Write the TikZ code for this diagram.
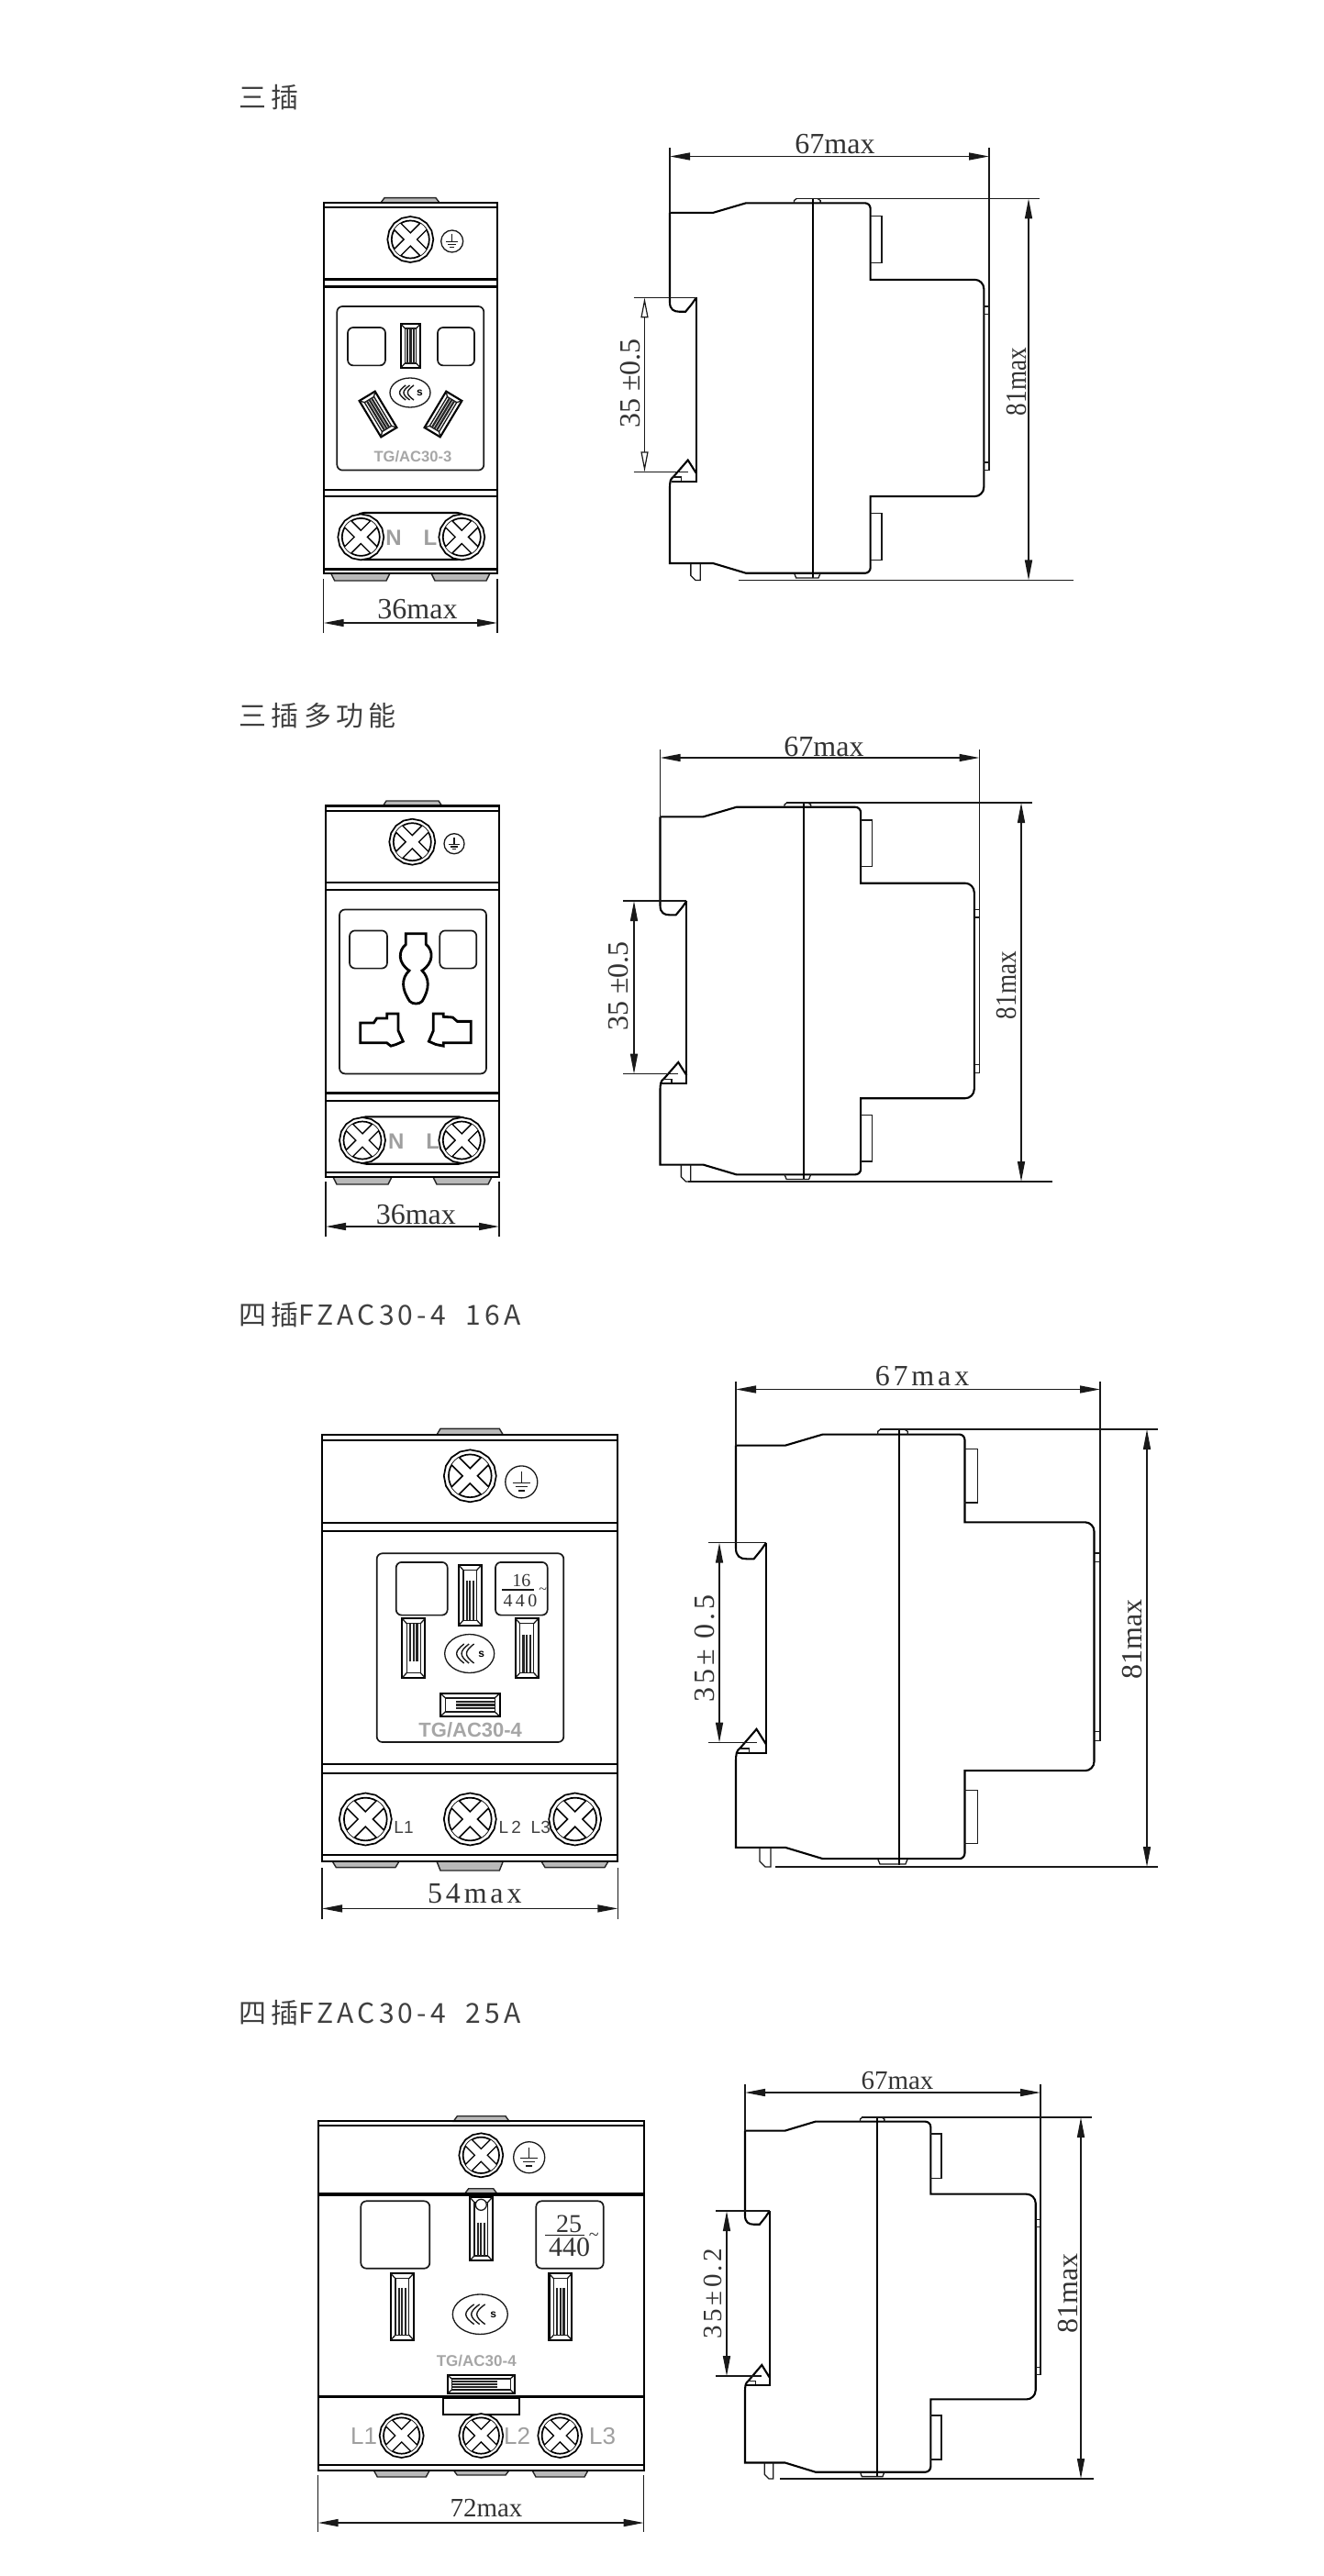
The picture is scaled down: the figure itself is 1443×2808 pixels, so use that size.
\documentclass[tikz,border=0pt]{standalone}
\usepackage{fontspec}
\usetikzlibrary{arrows.meta}
\newfontfamily\headfont[LetterSpace=18]{Noto Sans CJK SC}
\newfontfamily\headlatin[LetterSpace=14]{Noto Sans CJK SC}
\newfontfamily\dimfont{Liberation Serif}
\newfontfamily\dimwide[LetterSpace=12]{Liberation Serif}
\newfontfamily\marksans{Liberation Sans}
\tikzset{
    bodyline/.style = {draw=black, line width=1.05pt},
    thinline/.style = {draw=black!90, line width=0.65pt},
    heavyline/.style = {draw=black, line width=1.4pt},
    tabfill/.style = {draw=black!85, fill=gray!55, line width=0.7pt},
    windownode/.style = {draw=black!90, line width=0.85pt, rounded corners=3pt},
    extline/.style = {draw=black!90, line width=0.75pt},
    dimline/.style = {draw=black!90, line width=0.75pt, <->, >={Triangle[length=11pt,width=4pt]}},
    dimopen/.style = {draw=black!90, line width=0.6pt, <->, >={Triangle[open,length=11pt,width=4pt,fill=white]}},
    headnode/.style = {anchor=west, inner sep=0pt, text=black!75, font=\headfont\fontsize{15}{15}\selectfont},
    dimnode/.style = {inner sep=0pt, text=black!80, font=\dimfont\fontsize{16}{16}\selectfont},
    dimsmall/.style = {inner sep=0pt, text=black!80, font=\dimfont\fontsize{14.5}{14.5}\selectfont},
    widenode/.style = {inner sep=0pt, text=black!80, font=\dimwide\fontsize{16}{16}\selectfont},
    graymark/.style = {inner sep=0pt, text=gray!75, font=\marksans\bfseries\fontsize{12}{12}\selectfont},
    typemark/.style = {inner sep=0pt, text=gray!70, font=\marksans\bfseries\fontsize{#1}{#1}\selectfont},
    ratenode/.style = {inner sep=0pt, text=black!80, font=\dimfont\fontsize{#1}{#1}\selectfont}
}
\newcommand{\screw}[3]{%
    \begin{scope}[shift={(#1,#2)}]
        \draw[bodyline, line width=0.85pt, fill=white] plot[samples=17, domain=0:360] ({#3*cos(\x)},{#3*sin(\x)}) -- cycle;
        \draw[bodyline, line width=0.85pt] (0,0) circle ({0.82*#3});
        \begin{scope}
            \clip (0,0) circle ({0.82*#3});
            \foreach \a in {45,135} \draw[black, line width=0.23*#3 pt] (\a:#3) -- (\a+180:#3);
            \foreach \a in {45,135} \draw[white, line width=0.17*#3 pt] (\a:#3) -- (\a+180:#3);
        \end{scope}
    \end{scope}
}
\newcommand{\earth}[3]{%
    \begin{scope}[shift={(#1,#2)}]
        \draw[thinline] (0,0) circle (#3);
        \draw[thinline] (0,{-0.65*#3}) -- (0,{0.05*#3});
        \draw[thinline] ({-0.55*#3},{0.05*#3}) -- ({0.55*#3},{0.05*#3});
        \draw[thinline] ({-0.38*#3},{0.3*#3}) -- ({0.38*#3},{0.3*#3});
        \draw[thinline] ({-0.2*#3},{0.55*#3}) -- ({0.2*#3},{0.55*#3});
    \end{scope}
}
\newcommand{\slotmark}[6]{%
    \begin{scope}[shift={(#1,#2)}, rotate=#5]
        \draw[bodyline, fill=white] ({-#3/2},{-#4/2}) rectangle ({#3/2},{#4/2});
        \draw[thinline] ({-0.3*#3},{-#4/2+0.22*#3}) rectangle ({0.3*#3},{#4/2-0.22*#3});
        \foreach \sx in {-1,1} \foreach \sy in {-1,1}
            \draw[thinline] ({\sx*#3/2},{\sy*#4/2}) -- ({\sx*0.3*#3},{\sy*(#4/2-0.22*#3)});
        \foreach \lx in {-0.15,0,0.15}
            \draw[black!85, line width=1.1pt] ({\lx*#3},{-#4/2+0.22*#3+#6}) -- ({\lx*#3},{#4/2-0.22*#3});
    \end{scope}
}
\newcommand{\logomark}[5]{%
    \draw[thinline] (#2,#3) ellipse (#4 and #5);
    \foreach \k in {0,1,2}
        \draw[thinline, line width=0.7pt] ({#2+(-0.22+0.2*\k)*#4},{#3-0.5*#5}) .. controls ({#2+(-0.62+0.2*\k)*#4},{#3-0.1*#5}) and ({#2+(-0.62+0.2*\k)*#4},{#3+0.1*#5}) .. ({#2+(-0.22+0.2*\k)*#4},{#3+0.5*#5});
    \node [inner sep=0pt, name=#1, font=\marksans\bfseries\fontsize{6}{6}\selectfont] at ({#2+0.48*#4},{#3+0.05*#5}) {s};
}
\newcommand{\tabmark}[4]{%
    \draw[tabfill] (#1,#4) -- ({#1+4},#3) -- ({#2-4},#3) -- (#2,#4) -- cycle;
}
% side view, drawn in millimetres: 67 wide and 81 high
\newcommand{\sideview}[4]{%
    \begin{scope}[shift={(#1,#2)}, xscale=#3/67, yscale=#4/81]
        \draw[bodyline] (0,3) -- (9.07,3) -- (16,0.94) [rounded corners=3pt] -- (42.1,0.94) -- (42.1,8) [sharp corners]
            -- (42.1,17.2) -- (60,17.2) [rounded corners=5pt] -- (65.9,17.2) -- (65.9,30) [sharp corners]
            -- (65.9,55) [rounded corners=5pt] -- (65.9,63.2) -- (60,63.2) [sharp corners]
            -- (42.1,63.2) -- (42.1,72) [rounded corners=3pt] -- (42.1,79.5) -- (30,79.5) [sharp corners]
            -- (16,79.5) -- (9.07,77.4) -- (0,77.4) -- (0,61.7)
            .. controls (0,60) and (0.1,59.5) .. (0.8,59) -- (3.8,55.5) -- (5.56,58.3);
        \draw[bodyline] (0,3) -- (0,22) .. controls (0,23.5) and (0.8,24) .. (2,24) -- (3.3,24) -- (4.6,22.4) -- (5.56,21);
        \draw[bodyline] (5.56,21) -- (5.56,60) -- (0.3,60);
        \draw[thinline] (0.5,59.1) -- (2.4,59.1) -- (2.4,59.9);
        \draw[bodyline] (30.05,0) -- (30.05,80.6);
        \draw[thinline] (26.1,0.94) -- (26.1,0.4) -- (26.6,0);
        \draw[thinline] (31.6,0.94) -- (31.6,0.4) -- (31,0);
        \draw[thinline] (26.1,79.5) -- (26.5,80.5) -- (31.2,80.5) -- (31.6,79.5);
        \draw[thinline] (42.1,3.7) -- (44.5,3.7) -- (44.5,13.6) -- (42.1,13.6);
        \draw[thinline] (42.1,66.8) -- (44.5,66.8) -- (44.5,76.7) -- (42.1,76.7);
        \draw[thinline] (65.9,22.9) -- (67,22.9) -- (67,57.7) -- (65.9,57.7);
        \draw[thinline] (65.9,24.5) -- (67,24.5);
        \draw[thinline] (65.9,56) -- (67,56);
        \draw[thinline] (4.4,77.4) -- (4.4,80) -- (5.4,81) -- (6.4,81) -- (6.4,77.4);
    \end{scope}
}
% dimension lines of a side view: x y w h, dim height, right dim x, left dim x, arrow style
\newcommand{\sidedims}[8]{%
    \pgfmathsetmacro{\xr}{#1+#3}
    \pgfmathsetmacro{\ya}{#2+21*(#4/81)}
    \pgfmathsetmacro{\yb}{#2+58*(#4/81)}
    \pgfmathsetmacro{\yd}{#2+#4}
    \pgfmathsetmacro{\xa}{#1+5.56*(#3/67)}
    \pgfmathsetmacro{\xb}{#1+3.8*(#3/67)}
    \pgfmathsetmacro{\ye}{#2+3*(#4/81)}
    \pgfmathsetmacro{\yf}{#2+22.9*(#4/81)}
    \pgfmathsetmacro{\xg}{#1+26.5*(#3/67)}
    \draw[dimline] (#1,#5) -- (\xr,#5);
    \draw[extline] (#1,{#5-9}) -- (#1,\ye);
    \draw[extline] (\xr,{#5-9}) -- (\xr,\yf);
    \draw[extline] (\xg,#2) -- ({#6+12},#2);
    \draw[dimline] (#6,#2) -- (#6,\yd);
    \draw[extline] ({#7-12},\ya) -- (\xa,\ya);
    \draw[extline] ({#7-12},\yb) -- (\xb,\yb);
    \draw[#8] (#7,\ya) -- (#7,\yb);
}
\begin{document}
\begin{tikzpicture}[x=0.5pt, y=-0.5pt]
    \useasboundingbox (0,0) rectangle (1443,2808);

    % three pin
    \node [headnode, name=headone] at (260,106) {三插};
    \tabmark{415}{479}{215.7}{221}
    \tabmark{360.7}{425}{633}{625}
    \tabmark{470}{534}{633}{625}
    \draw[bodyline] (352.7,220.7) rectangle (542,624.7);
    \foreach \ly in {225.8,304.5,312.5,533.8,541,620.5} \draw[bodyline] (352.7,\ly) -- (542,\ly);
    \screw{447.3}{261}{25}
    \earth{492.7}{263}{12}
    \draw[windownode] (367.3,334) rectangle (527.3,512.6);
    \draw[windownode] (379,357) rectangle (420,398.4);
    \draw[windownode] (477,357) rectangle (517,398.4);
    \slotmark{447.5}{377}{21}{47.5}{0}{0}
    \slotmark{412}{451.5}{20}{46}{31}{0}
    \slotmark{483}{451.5}{20}{46}{-31}{0}
    \logomark{logoone}{447}{428}{22}{16}
    \node [typemark=8.3, name=typeone] at (450,498) {TG/AC30-3};
    \draw[bodyline, rounded corners=6pt] (385,559) rectangle (510,610);
    \screw{393.3}{585.4}{25}
    \screw{503.3}{585.4}{25}
    \node [graymark, name=none, anchor=center] at (429,586.6) {N};
    \node [graymark, name=lone] at (469,586.6) {L};
    \draw[dimline] (352.7,679) -- (542,679);
    \draw[extline] (352.7,631) -- (352.7,690);
    \draw[extline] (542,631) -- (542,690);
    \node [dimnode, name=widthone] at (455,664) {36max};
    \sideview{730}{216.5}{348}{416}
    \sidedims{730}{216.5}{348}{416}{170.5}{1121}{702.5}{dimopen}
    \draw[extline] (805,632.5) -- (1170,632.5);
    \node [dimnode, name=depthone] at (910,157) {67max};
    \node [dimnode, name=heightone, rotate=90, xscale=0.85] at (1108,416) {81max};
    \node [dimnode, name=railone, rotate=90] at (687,418) {35 ±0.5};

    % three pin, multi function
    \node [headnode, name=headtwo] at (260,780) {三插多功能};
    \tabmark{417}{482}{873}{879}
    \tabmark{363}{427}{1291}{1283}
    \tabmark{472}{536}{1291}{1283}
    \draw[bodyline] (355,878.5) rectangle (544,1282.8);
    \foreach \ly in {884,961.7,969.7,1191.5,1199.6,1277.8} \draw[bodyline] (355,\ly) -- (544,\ly);
    \screw{449.3}{917.7}{25}
    \earth{495}{919.7}{11}
    \draw[windownode] (370,991.5) rectangle (530,1170.4);
    \draw[windownode] (381,1014.4) rectangle (422,1055.6);
    \draw[windownode] (479.3,1014.4) rectangle (519.3,1055.6);
    \begin{scope}[shift={(320,860)}, xscale=1/3, yscale=1/2.98]
        \draw[heavyline] (367,470) -- (433,470) -- (433,505) .. controls (458,525) and (458,565) .. (420,590) .. controls (445,615) and (445,650) .. (420,690) .. controls (410,700) and (390,700) .. (380,690) .. controls (352,650) and (352,615) .. (378,590) .. controls (340,565) and (342,525) .. (367,505) -- cycle;
        \draw[heavyline] (218,760) -- (262,760) -- (272,745) -- (305,745) -- (305,730) -- (342,730) -- (342,785) -- (358,820) -- (335,830) -- (318,835) -- (305,825) -- (218,825) -- cycle;
        \draw[heavyline] (580,755) -- (535,755) -- (520,742) -- (490,740) -- (490,730) -- (457,730) -- (457,785) -- (442,820) -- (465,830) -- (490,835) -- (490,825) -- (580,825) -- cycle;
    \end{scope}
    \draw[bodyline, rounded corners=6pt] (387,1217.4) rectangle (512,1268.7);
    \screw{395}{1243}{25}
    \screw{503.3}{1243}{25}
    \node [graymark, name=ntwo] at (431.7,1244) {N};
    \node [graymark, name=ltwo] at (471.7,1244) {L};
    \draw[dimline] (355,1337) -- (544,1337);
    \draw[extline] (355,1288) -- (355,1348);
    \draw[extline] (544,1288) -- (544,1348);
    \node [dimnode, name=widthtwo] at (453.3,1323.8) {36max};
    \sideview{719.5}{875}{348}{413}
    \sidedims{719.5}{875}{348}{413}{826}{1113}{691}{dimline}
    \draw[extline] (750,1288) -- (1147,1288);
    \node [dimnode, name=depthtwo] at (898,814) {67max};
    \node [dimnode, name=heighttwo, rotate=90, xscale=0.85] at (1097,1074) {81max};
    \node [dimnode, name=railtwo, rotate=90] at (674,1075) {35 ±0.5};

    % four pin 16A
    \node [headnode, name=headthree] at (260,1433) {四插{\headlatin FZAC30-4~~16A}};
    \tabmark{476}{548.3}{1557.3}{1564}
    \tabmark{362.3}{435}{2035.6}{2029}
    \tabmark{476}{548.3}{2039}{2029}
    \tabmark{590}{663}{2035.6}{2029}
    \draw[bodyline] (351,1563.9) rectangle (673.3,2029);
    \foreach \ly in {1570,1660,1669.4,1923,1932.6,2022.4} \draw[bodyline] (351,\ly) -- (673.3,\ly);
    \screw{512.3}{1608.8}{28.5}
    \earth{568.3}{1615.4}{17.5}
    \draw[windownode] (410.7,1693.3) rectangle (614.3,1899);
    \draw[windownode] (431.7,1702.9) rectangle (487.7,1760.6);
    \draw[windownode] (540,1702.9) rectangle (596.7,1760.6);
    \slotmark{512.3}{1738.8}{24.7}{65.6}{0}{12}
    \slotmark{450.8}{1796.6}{25}{64.7}{180}{12}
    \slotmark{574.2}{1796.6}{25}{64.7}{0}{12}
    \slotmark{512.3}{1858.4}{25}{64.7}{90}{12}
    \logomark{logothree}{511.7}{1802.5}{27}{21}
    \node [ratenode=10, name=ratethree] at (568.3,1722.7) {16};
    \draw[thinline] (547,1733) -- (581.7,1733);
    \node [ratenode=10, name=voltthree, font=\dimwide\fontsize{10}{10}\selectfont] at (567,1745) {4\,4\,0};
    \node [ratenode=8, name=tildethree] at (591.7,1734) {\textasciitilde};
    \node [typemark=11, name=typethree] at (512.7,1885.6) {TG/AC30-4};
    \screw{398.3}{1983}{28.5}
    \screw{512.3}{1983}{28.5}
    \screw{626.7}{1983}{28.5}
    \node [graymark, text=black!75, font=\marksans\fontsize{9.5}{9.5}\selectfont, name=lthreea] at (440,1991.5) {L1};
    \node [graymark, text=black!75, font=\marksans\fontsize{9.5}{9.5}\selectfont, name=lthreeb] at (555.7,1991.5) {L\,2};
    \node [graymark, text=black!75, font=\marksans\fontsize{9.5}{9.5}\selectfont, name=lthreec] at (589.3,1991.5) {L3};
    \draw[dimline] (351,2080.4) -- (673.3,2080.4);
    \draw[extline] (351,2036) -- (351,2091.5);
    \draw[extline] (673.3,2036) -- (673.3,2091.5);
    \node [widenode, name=widththree] at (517.3,2064) {54max};
    \sideview{802}{1558}{397}{477}
    \sidedims{802}{1558}{397}{477}{1514.5}{1250}{784}{dimline}
    \draw[extline] (845,2035) -- (1262,2035);
    \node [widenode, name=depththree] at (1005,1500) {67max};
    \node [dimnode, name=heightthree, rotate=90] at (1234,1787) {81max};
    \node [widenode, name=railthree, rotate=90] at (768,1797) {35± 0.5};

    % four pin 25A
    \node [headnode, name=headfour] at (260,2194) {四插{\headlatin FZAC30-4~~25A}};
    \tabmark{494.3}{555}{2306.7}{2312.3}
    \tabmark{407.3}{468.3}{2700}{2692.7}
    \tabmark{494.3}{555}{2698}{2692.7}
    \tabmark{580}{641}{2700}{2692.7}
    \tabmark{506.7}{541.7}{2385.7}{2391}
    \draw[bodyline] (346.7,2312.3) rectangle (701.7,2692.7);
    \foreach \ly in {2317,2687.3} \draw[bodyline] (346.7,\ly) -- (701.7,\ly);
    \foreach \ly in {2392,2612.5} \draw[heavyline, line width=1.6pt] (346.7,\ly) -- (701.7,\ly);
    \screw{524.3}{2349.3}{24}
    \earth{576.7}{2351.7}{17}
    \draw[windownode] (393.3,2399.3) rectangle (468.3,2472.7);
    \draw[windownode] (584.3,2399.3) rectangle (657.7,2472.7);
    \slotmark{524.3}{2429.7}{24.7}{69.3}{0}{22}
    \draw[thinline, fill=white] (524.3,2403.3) circle (6);
    \slotmark{438.3}{2514.5}{24.7}{72.4}{0}{10}
    \slotmark{610.8}{2514.5}{24.7}{72.4}{0}{10}
    \slotmark{524.2}{2599}{20.3}{73}{-90}{14}
    \logomark{logofour}{523.3}{2522.7}{30}{21.7}
    \node [ratenode=14, name=ratefour] at (620,2424) {25};
    \draw[thinline] (594,2436.7) -- (636.7,2436.7);
    \node [ratenode=15, name=voltfour] at (620.7,2450) {440};
    \node [ratenode=10, name=tildefour] at (647.3,2438.3) {\textasciitilde};
    \node [typemark=8.5, name=typefour] at (519.3,2573.3) {TG/AC30-4};
    \draw[bodyline, fill=white] (483.3,2614.3) rectangle (565.7,2631.7);
    \screw{437.7}{2655}{24}
    \screw{524.3}{2655}{24}
    \screw{610.3}{2655}{24}
    \node [graymark, name=lfoura, font=\marksans\fontsize{13}{13}\selectfont] at (396.7,2655.7) {L1};
    \node [graymark, name=lfourb, font=\marksans\fontsize{13}{13}\selectfont] at (563.7,2655.7) {L2};
    \node [graymark, name=lfourc, font=\marksans\fontsize{13}{13}\selectfont] at (656.7,2655.7) {L3};
    \draw[dimline] (346.7,2750) -- (701.7,2750);
    \draw[extline] (346.7,2698) -- (346.7,2760);
    \draw[extline] (701.7,2698) -- (701.7,2760);
    \node [dimsmall, name=widthfour] at (530,2734) {72max};
    \sideview{812}{2308}{322}{394}
    \sidedims{812}{2308}{322}{394}{2281}{1178}{792}{dimline}
    \draw[extline] (850,2702) -- (1192,2702);
    \node [dimsmall, name=depthfour] at (978,2268) {67max};
    \node [dimnode, name=heightfour, rotate=90] at (1164,2500) {81max};
    \node [dimsmall, name=railfour, rotate=90, font=\dimwide\fontsize{14.5}{14.5}\selectfont] at (777,2500) {35±0.2};
\end{tikzpicture}
\end{document}
